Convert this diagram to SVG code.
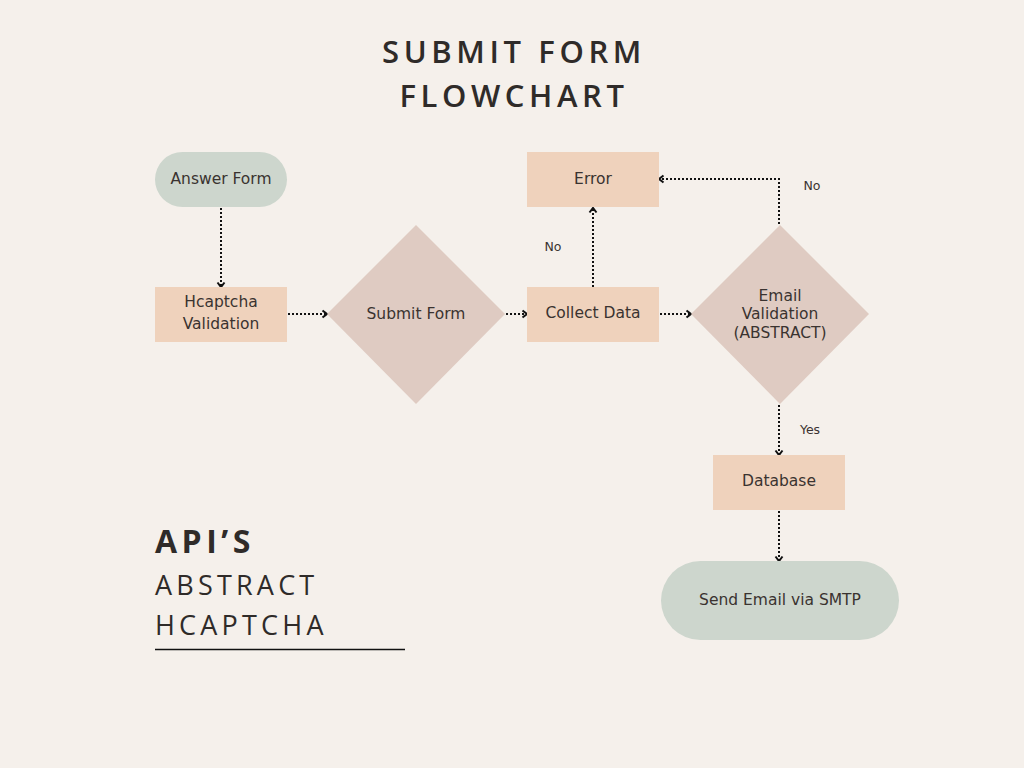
<svg xmlns="http://www.w3.org/2000/svg" width="1024" height="768" viewBox="0 0 1024 768">
<defs>
<marker id="chev" viewBox="0 0 10 10" refX="8" refY="5" markerWidth="10" markerHeight="10" orient="auto" markerUnits="userSpaceOnUse">
<path d="M3.5,1.5 L8,5 L3.5,8.5" fill="none" stroke="#111" stroke-width="2"/>
</marker>
<style>
text{font-family:"DejaVu Sans","Open Sans",sans-serif;fill:#3a3330}
.lbl{font-size:15.5px;text-anchor:middle;dominant-baseline:central}
.small{font-size:12.5px;text-anchor:middle;dominant-baseline:central}
.pill{fill:#cdd6cd}
.box{fill:#efd2bc}
.dia{fill:#dfcbc2}
.conn{fill:none;stroke:#111;stroke-width:2;stroke-dasharray:2 2;marker-end:url(#chev)}
.head{font-family:"Open Sans","DejaVu Sans",sans-serif;fill:#2f2b29}
</style>
</defs>
<rect width="1024" height="768" fill="#f5f0eb"/>
<g id="title">
<text class="head" x="514" y="63" text-anchor="middle" font-size="31" font-weight="600" letter-spacing="4.6">SUBMIT FORM</text>
<text class="head" x="514" y="107" text-anchor="middle" font-size="31" font-weight="600" letter-spacing="4.6">FLOWCHART</text>
</g>
<g id="connectors">
<path class="conn" d="M221,208 L221,287"/>
<path class="conn" d="M288,314 L327,314"/>
<path class="conn" d="M506,314 L527,314"/>
<path class="conn" d="M593,287 L593,208"/>
<path class="conn" d="M660,314 L691,314"/>
<path class="conn" d="M779,224 L779,179 L659,179"/>
<path class="conn" d="M779,405 L779,455"/>
<path class="conn" d="M779,511 L779,561"/>
<text class="small" x="553" y="246">No</text>
<text class="small" x="812" y="185">No</text>
<text class="small" x="810" y="429">Yes</text>
</g>
<g id="answer-form">
<rect class="pill" x="155" y="152" width="132" height="55" rx="27.5"/>
<text class="lbl" x="221" y="179">Answer Form</text>
</g>
<g id="hcaptcha">
<rect class="box" x="155" y="287" width="132" height="55"/>
<text class="lbl" x="221" y="302">Hcaptcha</text>
<text class="lbl" x="221" y="324">Validation</text>
</g>
<g id="submit-form">
<polygon class="dia" points="416,225 505,314 416,404 327,314"/>
<text class="lbl" x="416" y="314">Submit Form</text>
</g>
<g id="collect-data">
<rect class="box" x="527" y="287" width="132" height="55"/>
<text class="lbl" x="593" y="313">Collect Data</text>
</g>
<g id="error">
<rect class="box" x="527" y="152" width="132" height="55"/>
<text class="lbl" x="593" y="179">Error</text>
</g>
<g id="email-validation">
<polygon class="dia" points="780,225 869,314 780,404 691,314"/>
<text class="lbl" x="780" y="296">Email</text>
<text class="lbl" x="780" y="314">Validation</text>
<text class="lbl" x="780" y="333">(ABSTRACT)</text>
</g>
<g id="database">
<rect class="box" x="713" y="455" width="132" height="55"/>
<text class="lbl" x="779" y="481">Database</text>
</g>
<g id="send-email">
<rect class="pill" x="661" y="561" width="238" height="79" rx="39.5"/>
<text class="lbl" x="780" y="600">Send Email via SMTP</text>
</g>
<g id="apis">
<text class="head" x="155" y="553" font-size="32" font-weight="bold" letter-spacing="4.5">API’S</text>
<text class="head" x="155" y="595" font-size="27" letter-spacing="4.2">ABSTRACT</text>
<text class="head" x="155" y="635" font-size="27" letter-spacing="4.2">HCAPTCHA</text>
<line x1="155" y1="649.5" x2="405" y2="649.5" stroke="#111" stroke-width="1.3"/>
</g>
</svg>
